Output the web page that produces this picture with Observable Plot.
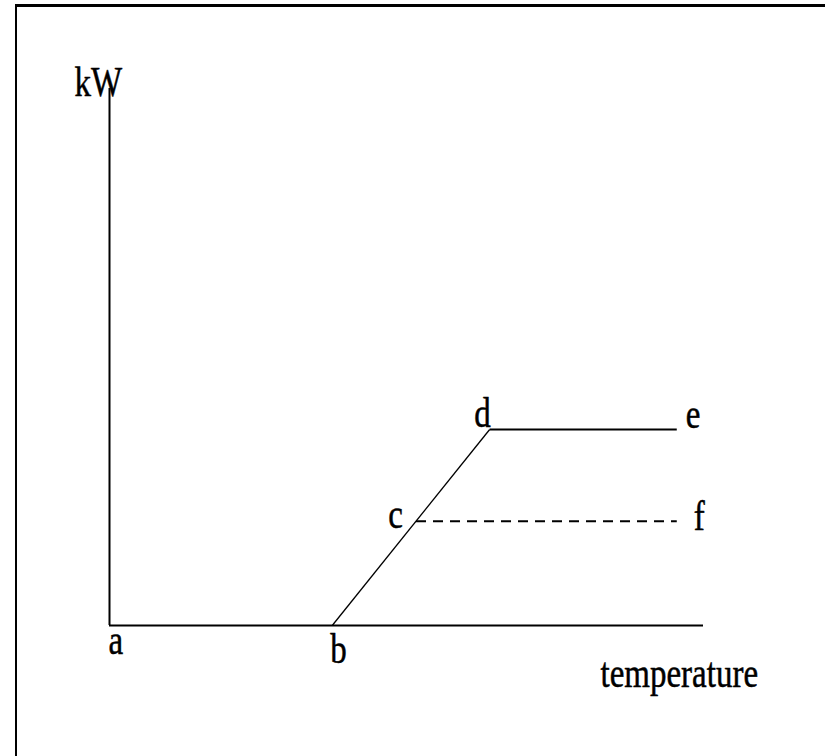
<!DOCTYPE html>
<html>
<head>
<meta charset="utf-8">
<script src="https://cdn.jsdelivr.net/npm/d3@7"></script>
<script src="https://cdn.jsdelivr.net/npm/@observablehq/plot@0.6"></script>
<style>
  html, body { margin: 0; padding: 0; background: #fff; overflow: hidden; }
  #wrap { position: relative; width: 825px; height: 756px; overflow: hidden; background: #fff; }
  #frameTop { position: absolute; left: 15px; top: 4px; width: 810px; height: 3px; background: #000; }
  #frameLeft { position: absolute; left: 15px; top: 4px; width: 2px; height: 752px; background: #000; }
  #chart svg { display: block; }
</style>
</head>
<body>
<div id="wrap"><div id="chart"></div><div id="frameTop"></div><div id="frameLeft"></div></div>
<script>
// Points on the diagram (arbitrary units: temperature on x, kW on y)
const pointNames = ["a", "b", "c", "d", "e", "f"];
const pointX = [0, 37.5, 51.6, 64, 95.5, 95.5];
const pointY = [0, 0, 19.4, 36.5, 36.5, 19.4];
const axisXMax = 100;
const axisYMax = 100;
const xLabel = "temperature";
const yLabel = "kW";

const P = Object.fromEntries(pointNames.map((n, i) => [n, {name: n, x: pointX[i], y: pointY[i]}]));
const font = "'Liberation Serif', 'Times New Roman', serif";
const fs = 33;

function label(text, at, opts) {
  return Plot.text([at], {x: "x", y: "y", text: () => text, fontFamily: font, fontSize: fs,
    fill: "#000", stroke: "#000", strokeWidth: 0.4, lineAnchor: "bottom", ...opts});
}

const chart = Plot.plot({
  width: 825,
  height: 756,
  marginLeft: 109,
  marginRight: 122,
  marginTop: 88,
  marginBottom: 131,
  style: {background: "transparent"},
  x: {domain: [0, axisXMax], axis: null},
  y: {domain: [0, axisYMax], axis: null},
  marks: [
    Plot.ruleX([0], {y1: 0, y2: axisYMax, stroke: "#000", strokeWidth: 2}),
    Plot.ruleY([0], {x1: 0, x2: axisXMax, stroke: "#000", strokeWidth: 2}),
    Plot.link([{a: P.b, b: P.d}], {x1: d => d.a.x, y1: d => d.a.y, x2: d => d.b.x, y2: d => d.b.y, stroke: "#000", strokeWidth: 1.3}),
    Plot.link([{a: P.d, b: P.e}], {x1: d => d.a.x, y1: d => d.a.y, x2: d => d.b.x, y2: d => d.b.y, stroke: "#000", strokeWidth: 2}),
    Plot.link([{a: P.c, b: P.f}], {x1: d => d.a.x, y1: d => d.a.y, x2: d => d.b.x, y2: d => d.b.y, stroke: "#000", strokeWidth: 2, strokeDasharray: "10,7"}),
    label(yLabel, {x: 0, y: axisYMax}, {textAnchor: "start", dx: -35, dy: 7}),
    label("a", P.a, {textAnchor: "start", dx: -1, dy: 28}),
    label("b", P.b, {textAnchor: "start", dx: -2, dy: 37}),
    label("c", P.c, {textAnchor: "end", dx: -13, dy: 7}),
    label("d", P.d, {textAnchor: "end", dx: 1, dy: -2}),
    label("e", P.e, {textAnchor: "start", dx: 9, dy: -1}),
    label("f", P.f, {textAnchor: "start", dx: 17, dy: 9}),
    label(xLabel, {x: axisXMax, y: 0}, {textAnchor: "start", dx: -103, dy: 61})
  ]
});

// vertically stretch labels like the reference bitmap font
chart.querySelectorAll("text").forEach(t => {
  let tr = t.getAttribute("transform") || "";
  const x = t.getAttribute("x"), y = t.getAttribute("y");
  if (x && !/em$/.test(x)) { tr += ` translate(${x},0)`; t.removeAttribute("x"); }
  if (y && !/em$/.test(y)) { tr += ` translate(0,${y})`; t.removeAttribute("y"); }
  t.setAttribute("transform", tr + " scale(1,1.25)");
});

document.getElementById("chart").appendChild(chart);
</script>
</body>
</html>
